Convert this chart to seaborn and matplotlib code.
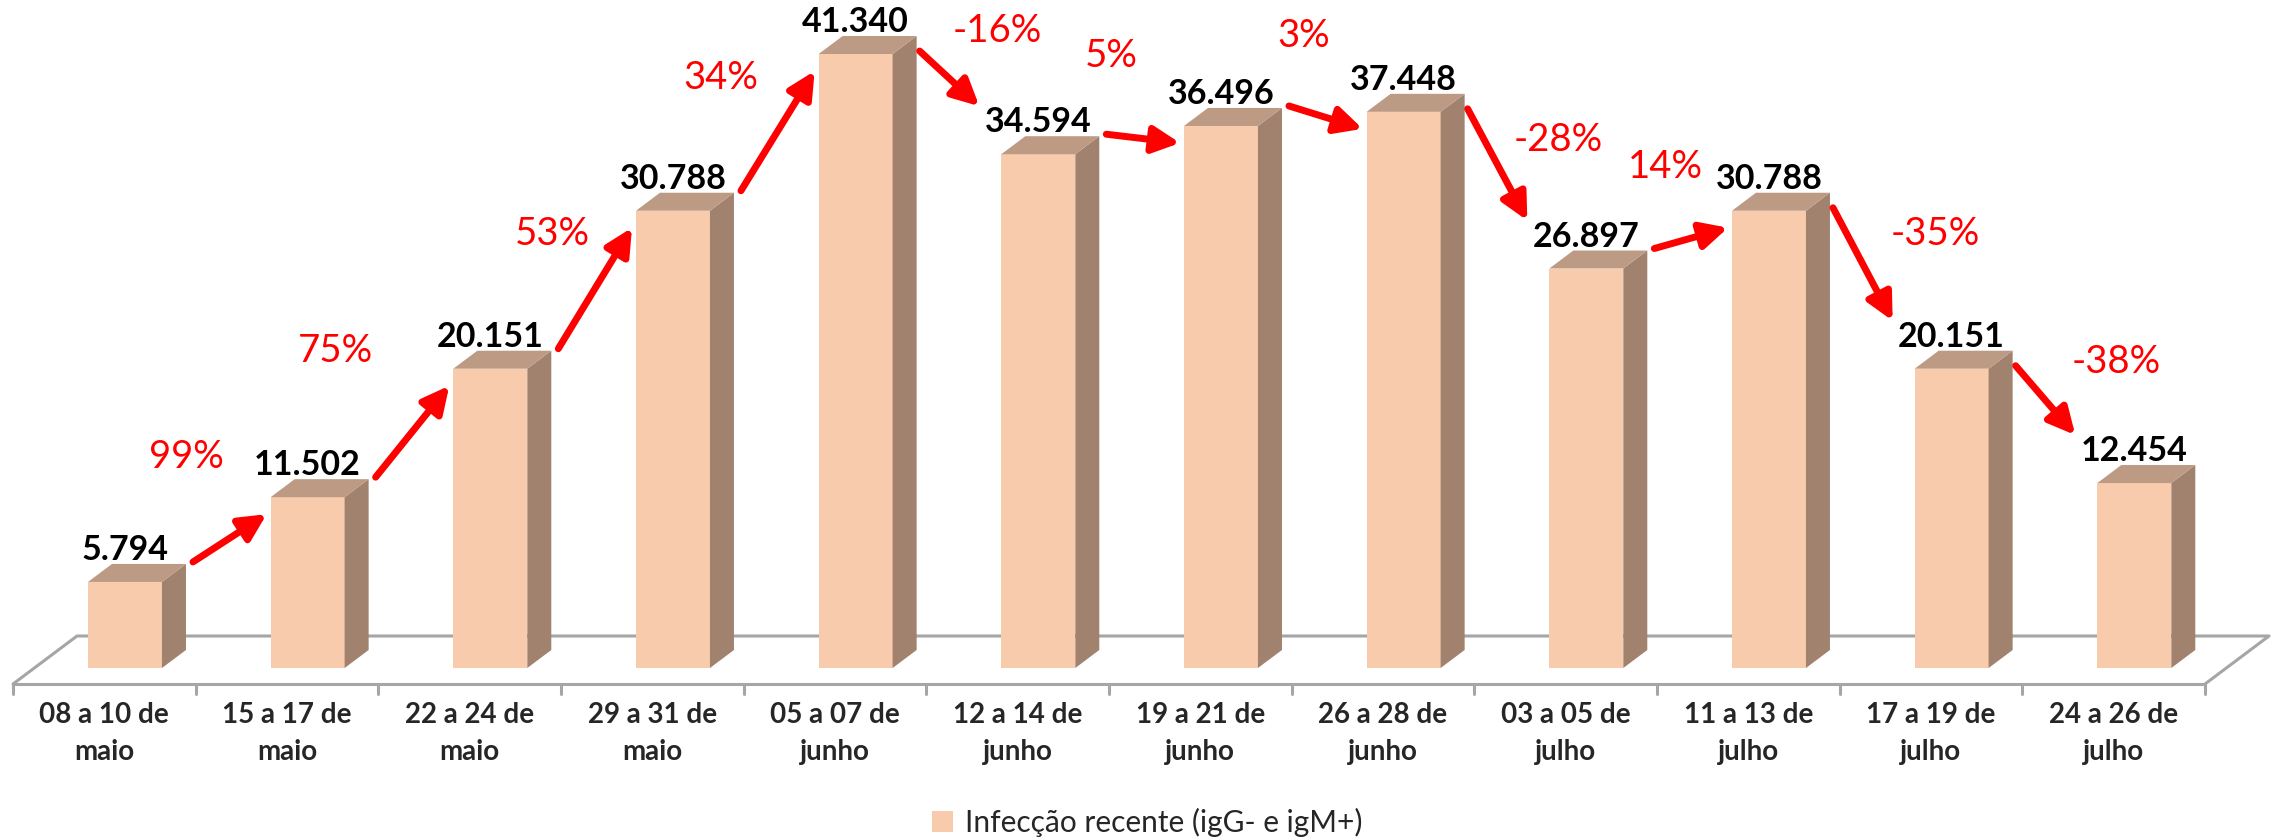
import matplotlib
matplotlib.use("Agg")
import matplotlib.pyplot as plt
import pandas as pd
import seaborn as sns
from matplotlib.patches import Polygon

# data
periods = ["08 a 10 de\nmaio", "15 a 17 de\nmaio", "22 a 24 de\nmaio", "29 a 31 de\nmaio",
           "05 a 07 de\njunho", "12 a 14 de\njunho", "19 a 21 de\njunho", "26 a 28 de\njunho",
           "03 a 05 de\njulho", "11 a 13 de\njulho", "17 a 19 de\njulho", "24 a 26 de\njulho"]
cases = [5794, 11502, 20151, 30788, 41340, 34594, 36496, 37448, 26897, 30788, 20151, 12454]
changes = ["99%", "75%", "53%", "34%", "-16%", "5%", "3%", "-28%", "14%", "-35%", "-38%"]
legend_label = "Infecção recente (igG- e igM+)"

# layout: where each % label sits relative to its arrow middle (pixels, x / up)
pct_offsets = [(-43, 81), (-77, 80), (-43, 54), (-57, 53), (48, 48), (-32, 83),
               (-22, 81), (61, 25), (-26, 71), (72, 30), (71, 38)]

FRONT = "#F7CBAC"
TOP = "#BC9A84"
SIDE = "#A0826E"
FLOOR = "#A6A6A6"
DX, DY = 24, 18          # bar depth in pixels
FDX, FDY = 64, 48        # floor depth in pixels

sns.set_style("white")
plt.rcParams["font.family"] = ["Lato", "DejaVu Sans"]

W, H = 2272, 839
fig = plt.figure(figsize=(W / 100, H / 100), dpi=100)
ax = fig.add_axes([13 / W, 1 - 684 / H, 2192 / W, 684 / H])

df = pd.DataFrame({"periodo": periods, "casos": cases})
sns.barplot(data=df, x="periodo", y="casos", color=FRONT, saturation=1, width=0.405,
            errorbar=None, edgecolor="none", label=legend_label, ax=ax)

ax.set_xlim(-0.5, len(cases) - 0.5)
ax.set_ylim(-1077, 44977)
for s in ax.spines.values():
    s.set_visible(False)
ax.set_yticks([])
ax.set_xlabel("")
ax.set_ylabel("")
ax.tick_params(axis="x", length=0, pad=13)
for t in ax.get_xticklabels():
    t.set_fontsize(20)
    t.set_fontweight("bold")
    t.set_linespacing(1.5)


def disp(x, y):
    return ax.transData.transform((x, y))


def data(px, py):
    return ax.transData.inverted().transform((px, py))


def poly(points, color, z):
    pts = [data(px, py) for px, py in points]
    ax.add_patch(Polygon(pts, closed=True, facecolor=color, edgecolor="none",
                         zorder=z, clip_on=False))


# shift bars back a bit like the 3d original and add side/top faces
bars = list(ax.patches)
boxes = []
for p in bars:
    p.set_x(p.get_x() + 0.113)
    x0, x1, h = p.get_x(), p.get_x() + p.get_width(), p.get_height()
    X0, Y0 = disp(x0, 0)
    X1, Yt = disp(x1, h)
    poly([(X1, Y0), (X1 + DX, Y0 + DY), (X1 + DX, Yt + DY), (X1, Yt)], SIDE, 1)
    poly([(X0, Yt), (X1, Yt), (X1 + DX, Yt + DY), (X0 + DX, Yt + DY)], TOP, 1)
    boxes.append((X0, X1, Yt))
    ax.annotate(f"{int(h):,}".replace(",", "."), xy=((x0 + x1) / 2, h),
                xytext=(0, (DY + 4) * 0.72), textcoords="offset points",
                ha="center", va="baseline", fontsize=24.5, fontweight="bold",
                color="black", annotation_clip=False)

# floor
ylo = ax.get_ylim()[0]
FL, FY = disp(-0.5, ylo)
FR, _ = disp(len(cases) - 0.5, ylo)
floor = [(FL, FY), (FL + FDX, FY + FDY), (FR + FDX, FY + FDY), (FR, FY)]
fx, fy = zip(*[data(px, py) for px, py in floor])
ax.plot(fx, fy, color=FLOOR, lw=2.2, zorder=0.5, clip_on=False)
ax.plot([fx[0], fx[3]], [fy[0], fy[3]], color=FLOOR, lw=2.2, zorder=0.5, clip_on=False)
for k in range(len(cases) + 1):
    tx, _ = disp(k - 0.5, ylo)
    a, b = data(tx, FY), data(tx, FY - 10)
    ax.plot([a[0], b[0]], [a[1], b[1]], color=FLOOR, lw=2.2, zorder=0.5, clip_on=False)

# arrows with % change
for i, txt in enumerate(changes):
    X0a, X1a, Yta = boxes[i]
    X0b, X1b, Ytb = boxes[i + 1]
    if cases[i + 1] >= cases[i]:
        start = (X1a + DX + 7, Yta + 20)
        end = (X0b - 4, Ytb - 17)
    else:
        start = (X1a + DX + 3, Yta + 3)
        end = (X0b - 22, Ytb + 48)
    ax.annotate("", xy=data(*end), xytext=data(*start),
                arrowprops=dict(arrowstyle="-|>,head_length=0.8,head_width=0.4",
                                color="red", lw=5, shrinkA=0, shrinkB=0,
                                mutation_scale=20),
                annotation_clip=False)
    mx = (start[0] + end[0]) / 2 + pct_offsets[i][0]
    my = (start[1] + end[1]) / 2 + pct_offsets[i][1]
    ax.text(*data(mx, my), txt, color="red", fontsize=27.5, ha="center", va="center")

ax.legend(loc="center", bbox_to_anchor=(1147 / W, 1 - 822 / H), bbox_transform=fig.transFigure,
          frameon=False, fontsize=21.5, handlelength=0.7, handleheight=0.7,
          handletextpad=0.4)

fig.savefig("out.png", dpi=100)
